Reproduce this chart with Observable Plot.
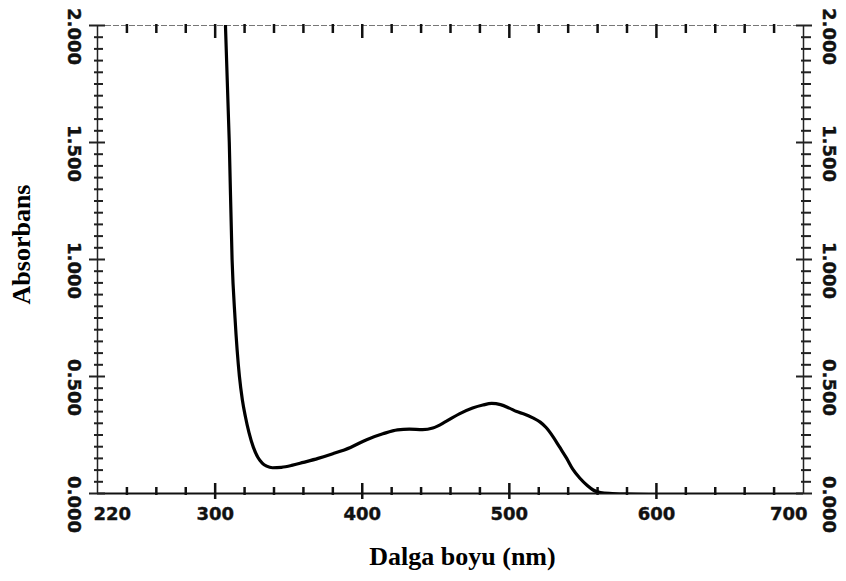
<!DOCTYPE html>
<html>
<head>
<meta charset="utf-8">
<script src="https://cdn.jsdelivr.net/npm/d3@7"></script>
<script src="https://cdn.jsdelivr.net/npm/@observablehq/plot@0.6"></script>
<style>
  html, body { margin: 0; padding: 0; background: #fff; }
</style>
</head>
<body>
<div id="chart"></div>
<script>
// Data
const wavelength = [307, 309.6, 311.5, 313.5, 316.5, 318.5, 320.5, 323, 326, 329, 332, 335, 339, 345, 352, 360, 370, 380, 392, 403, 414, 424, 432, 441, 448, 457, 466, 475, 482, 488, 494, 500, 505, 510, 516, 521, 525, 530, 534, 539, 543, 548, 553, 557, 562, 570, 580, 600, 650, 700];
const absorbance = [2.0, 1.5, 1.0, 0.75, 0.5, 0.4, 0.33, 0.26, 0.197, 0.155, 0.13, 0.117, 0.11, 0.112, 0.12, 0.133, 0.15, 0.17, 0.197, 0.23, 0.255, 0.272, 0.275, 0.273, 0.28, 0.308, 0.34, 0.365, 0.378, 0.385, 0.38, 0.365, 0.35, 0.34, 0.323, 0.305, 0.282, 0.24, 0.2, 0.15, 0.105, 0.065, 0.034, 0.015, 0.004, 0.0, -0.003, -0.005, -0.007, -0.008];

const xDomain = [220, 700];
const yDomain = [0, 2];
const xTickLabels = [220, 300, 400, 500, 600, 700];
const xMajorTicks = [300, 400, 500, 600];
const xMinorTicks = d3.range(240, 700, 20).filter(v => v % 100 !== 0);
const yTickLabels = [0, 0.5, 1.0, 1.5, 2.0];
const yMinorTicks = d3.range(0.05, 2.0, 0.05).filter(v => Math.abs(v * 2 - Math.round(v * 2)) > 1e-6);
const xTitle = "Dalga boyu (nm)";
const yTitle = "Absorbans";

const spectrum = wavelength.map((w, i) => ({w, a: absorbance[i]}));

const tickFont = {fontFamily: "DejaVu Sans", fontWeight: "bold", fontSize: 18, fill: "#111", stroke: "#111", strokeWidth: 0.4};
const titleFont = {fontFamily: "Liberation Serif", fontWeight: "bold", fontSize: 26, fill: "#000"};
const noText = () => "";

const chart = Plot.plot({
  width: 846,
  height: 581,
  marginLeft: 97,
  marginRight: 43,
  marginTop: 25,
  marginBottom: 88,
  x: {domain: xDomain},
  y: {domain: yDomain},
  marks: [
    // frame
    Plot.ruleY([yDomain[1]], {stroke: "#777", strokeWidth: 1.2, strokeDasharray: "6,2"}),
    Plot.ruleY([yDomain[0]], {stroke: "#111", strokeWidth: 2}),
    Plot.ruleX([xDomain[0]], {stroke: "#222", strokeWidth: 1.5}),
    Plot.ruleX([xDomain[1]], {stroke: "#222", strokeWidth: 1.5}),
    // left ticks
    Plot.axisY(yMinorTicks, {anchor: "left", tickSize: 9, dx: 6, tickFormat: noText, label: null, strokeWidth: 2, stroke: "#222"}),
    Plot.axisY(yTickLabels, {anchor: "left", tickSize: 16, dx: 8, tickFormat: noText, label: null, strokeWidth: 2, stroke: "#222"}),
    // right ticks
    Plot.axisY(yMinorTicks, {anchor: "right", tickSize: 10, dx: -3, tickFormat: noText, label: null, strokeWidth: 2, stroke: "#222"}),
    Plot.axisY(yTickLabels, {anchor: "right", tickSize: 16, dx: -8, tickFormat: noText, label: null, strokeWidth: 2, stroke: "#222"}),
    // bottom ticks
    Plot.axisX(xMinorTicks, {anchor: "bottom", tickSize: 8, dy: -6, tickFormat: noText, label: null, strokeWidth: 2.5, stroke: "#111"}),
    Plot.axisX(xMajorTicks, {anchor: "bottom", tickSize: 16, dy: -10, tickFormat: noText, label: null, strokeWidth: 2.5, stroke: "#111"}),
    // top ticks
    Plot.axisX(xMinorTicks, {anchor: "top", tickSize: 9, dy: 7, tickFormat: noText, label: null, strokeWidth: 2.5, stroke: "#111"}),
    Plot.axisX(xMajorTicks, {anchor: "top", tickSize: 14, dy: 12, tickFormat: noText, label: null, strokeWidth: 2.5, stroke: "#111"}),
    // y tick labels (rotated), both sides
    Plot.text(yTickLabels, {y: d => d, text: d => d.toFixed(3), frameAnchor: "left", dx: -24, dy: 11, rotate: 90, textAnchor: "middle", lineAnchor: "middle", ...tickFont}),
    Plot.text(yTickLabels, {y: d => d, text: d => d.toFixed(3), frameAnchor: "right", dx: 25, dy: 11, rotate: 90, textAnchor: "middle", lineAnchor: "middle", ...tickFont}),
    // x tick labels
    Plot.text(xTickLabels.slice(0, 1), {x: d => d, text: d => String(d), frameAnchor: "bottom", dy: 21, dx: -4, textAnchor: "start", lineAnchor: "middle", ...tickFont}),
    Plot.text(xTickLabels.slice(1, -1), {x: d => d, text: d => String(d), frameAnchor: "bottom", dy: 21, textAnchor: "middle", lineAnchor: "middle", ...tickFont}),
    Plot.text(xTickLabels.slice(-1), {x: d => d, text: d => String(d), frameAnchor: "bottom", dy: 21, dx: 4, textAnchor: "end", lineAnchor: "middle", ...tickFont}),
    // spectrum
    Plot.line(spectrum, {x: "w", y: "a", curve: "monotone-x", stroke: "#000", strokeWidth: 3.2, clip: true}),
    // titles
    Plot.text([yTitle], {text: d => d, frameAnchor: "left", dx: -76, dy: -15, rotate: -90, textAnchor: "middle", lineAnchor: "middle", ...titleFont}),
    Plot.text([xTitle], {text: d => d, frameAnchor: "bottom", dx: 12, dy: 63, textAnchor: "middle", lineAnchor: "middle", ...titleFont})
  ]
});
document.getElementById("chart").appendChild(chart);
</script>
</body>
</html>
